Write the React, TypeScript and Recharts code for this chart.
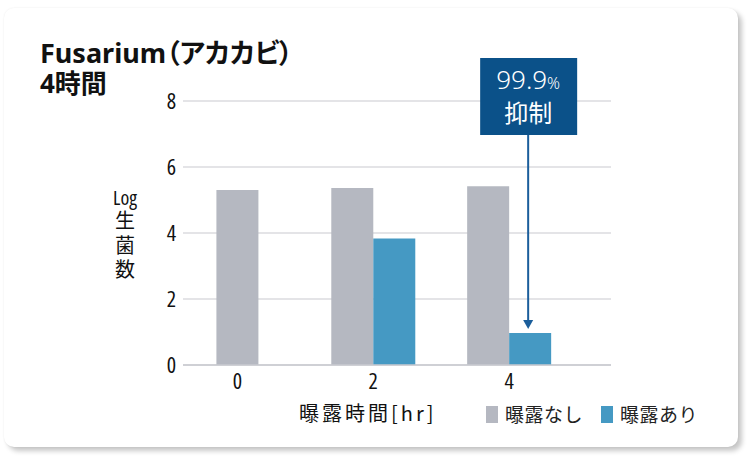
import React from "react";
import { BarChart, Bar, XAxis, YAxis, CartesianGrid, LabelList } from "recharts";

// exposure time [hr]
const hours = [0, 2, 4];
// Log viable count
const unexposed = [5.3, 5.36, 5.42];
const exposed: (number | null)[] = [null, 3.83, 0.97];
const yTicks = [0, 2, 4, 6, 8];
const seriesNames = ["曝露なし", "曝露あり"];
const callout = { hr: 4, rate: "99.9", unit: "%", text: "抑制" };

const GRAY = "#b5b8c1";
const BLUE = "#4599c3";
const NAVY = "#0b5189";
const ARROW = "#1b5e9b";
const GRID = "#c9cacf";

const NUM_FONT = "'Open Sans', 'DejaVu Sans Condensed', sans-serif";
const JP_FONT = "'Noto Sans CJK JP', 'Noto Sans', sans-serif";

// a category with no paired value gets its single bar centred on its own axis
const data = hours.map((hr, i) => {
  const paired = exposed[i] != null;
  return {
    hr,
    unexposed: paired ? unexposed[i] : null,
    solo: paired ? null : unexposed[i],
    exposed: exposed[i],
  };
});

const xDomain = [-0.8, 5.5];

function Callout(props: any) {
  const target = exposed[hours.indexOf(callout.hr)];
  if (target == null || props.value !== target) return null;
  const vb = props.viewBox ?? props;
  const { x, y, width, height } = vb;
  const ppu = height / target;
  const yMax = y + height - yTicks[yTicks.length - 1] * ppu;
  const cx = x + width / 2 - 2;
  const boxTop = yMax - 43;
  const boxBottom = yMax + 34;
  const tip = y - 4;
  return (
    <g>
      <line x1={cx} y1={boxBottom} x2={cx} y2={tip - 8} stroke={ARROW} strokeWidth={2} />
      <polygon points={`${cx - 5},${tip - 9} ${cx + 5},${tip - 9} ${cx},${tip}`} fill={ARROW} />
      <rect x={cx - 48} y={boxTop} width={97} height={77} fill={NAVY} />
      <text
        x={cx}
        y={boxTop + 31}
        textAnchor="middle"
        fill="#fff"
        fontSize={26}
        fontWeight={300}
        fontFamily="'Noto Sans', sans-serif"
      >
        {callout.rate}
        <tspan fontSize={16}>{callout.unit}</tspan>
      </text>
      <text
        x={cx}
        y={boxTop + 64}
        textAnchor="middle"
        fill="#fff"
        fontSize={24}
        fontFamily={JP_FONT}
      >
        {callout.text}
      </text>
    </g>
  );
}

const tickStyle = { fill: "#111", fontSize: 22, fontFamily: NUM_FONT, fontStretch: "condensed" };

export default function App() {
  return (
    <div style={{ position: "absolute", left: 0, top: 0, width: 751, height: 456, background: "#fff" }}>
      <div
        style={{
          position: "absolute",
          left: 4,
          top: 8,
          width: 734,
          height: 439,
          borderRadius: 10,
          background: "#fff",
          boxShadow: "4px 4px 5px rgba(0,0,0,0.22), 0 0 2px rgba(0,0,0,0.08)",
        }}
      />
      <div
        style={{
          position: "absolute",
          left: 40,
          top: 37,
          fontFamily: "'Noto Sans', 'Noto Sans CJK JP', sans-serif",
          fontWeight: 700,
          fontSize: 27,
          lineHeight: "31px",
          color: "#111",
          fontFeatureSettings: '"palt"',
          whiteSpace: "nowrap",
        }}
      >
        <div>Fusarium（アカカビ）</div>
        <div style={{ fontSize: 26 }}>4時間</div>
      </div>
      <div style={{ position: "absolute", left: 0, top: 0 }}>
        <BarChart
          width={751}
          height={456}
          data={data}
          barGap={0}
          margin={{ top: 101, right: 140, bottom: 61, left: 143 }}
        >
          <CartesianGrid horizontal vertical={false} stroke={GRID} strokeWidth={1.2} />
          <XAxis
            xAxisId="main"
            dataKey="hr"
            type="number"
            domain={xDomain}
            allowDataOverflow
            ticks={hours}
            tickLine={false}
            axisLine={{ stroke: GRID, strokeWidth: 1.5 }}
            tickMargin={2}
            tick={tickStyle}
          />
          <XAxis xAxisId="solo" dataKey="hr" type="number" domain={xDomain} allowDataOverflow hide />
          <YAxis
            width={40}
            domain={[0, 8]}
            ticks={yTicks}
            tickLine={false}
            axisLine={false}
            tickMargin={1}
            tick={tickStyle}
          />
          <Bar xAxisId="main" dataKey="unexposed" fill={GRAY} barSize={42} isAnimationActive={false} />
          <Bar xAxisId="main" dataKey="exposed" fill={BLUE} barSize={42} isAnimationActive={false}>
            <LabelList dataKey="exposed" content={Callout} />
          </Bar>
          <Bar xAxisId="solo" dataKey="solo" fill={GRAY} barSize={42} isAnimationActive={false} />
        </BarChart>
      </div>
      <div
        style={{
          position: "absolute",
          left: 105,
          top: 187,
          width: 40,
          textAlign: "center",
          color: "#111",
          fontSize: 20,
        }}
      >
        <div style={{ fontFamily: NUM_FONT, fontStretch: "condensed", lineHeight: "21px" }}>Log</div>
        {["生", "菌", "数"].map((c) => (
          <div key={c} style={{ fontFamily: JP_FONT, lineHeight: "24.5px" }}>
            {c}
          </div>
        ))}
      </div>
      <div
        style={{
          position: "absolute",
          left: 299,
          top: 399,
          fontFamily: JP_FONT,
          fontSize: 20,
          lineHeight: "28px",
          letterSpacing: 3,
          color: "#111",
          whiteSpace: "nowrap",
        }}
      >
        曝露時間[hr]
      </div>
      {seriesNames.map((name, i) => (
        <div
          key={name}
          style={{
            position: "absolute",
            left: i === 0 ? 486 : 601,
            top: 400,
            display: "flex",
            alignItems: "center",
            fontFamily: JP_FONT,
            fontSize: 19,
            lineHeight: "28px",
            letterSpacing: 0.5,
            color: "#222",
            whiteSpace: "nowrap",
          }}
        >
          <span
            style={{
              display: "inline-block",
              width: 12,
              height: 17,
              background: i === 0 ? GRAY : BLUE,
              marginRight: 7,
            }}
          />
          {name}
        </div>
      ))}
    </div>
  );
}
